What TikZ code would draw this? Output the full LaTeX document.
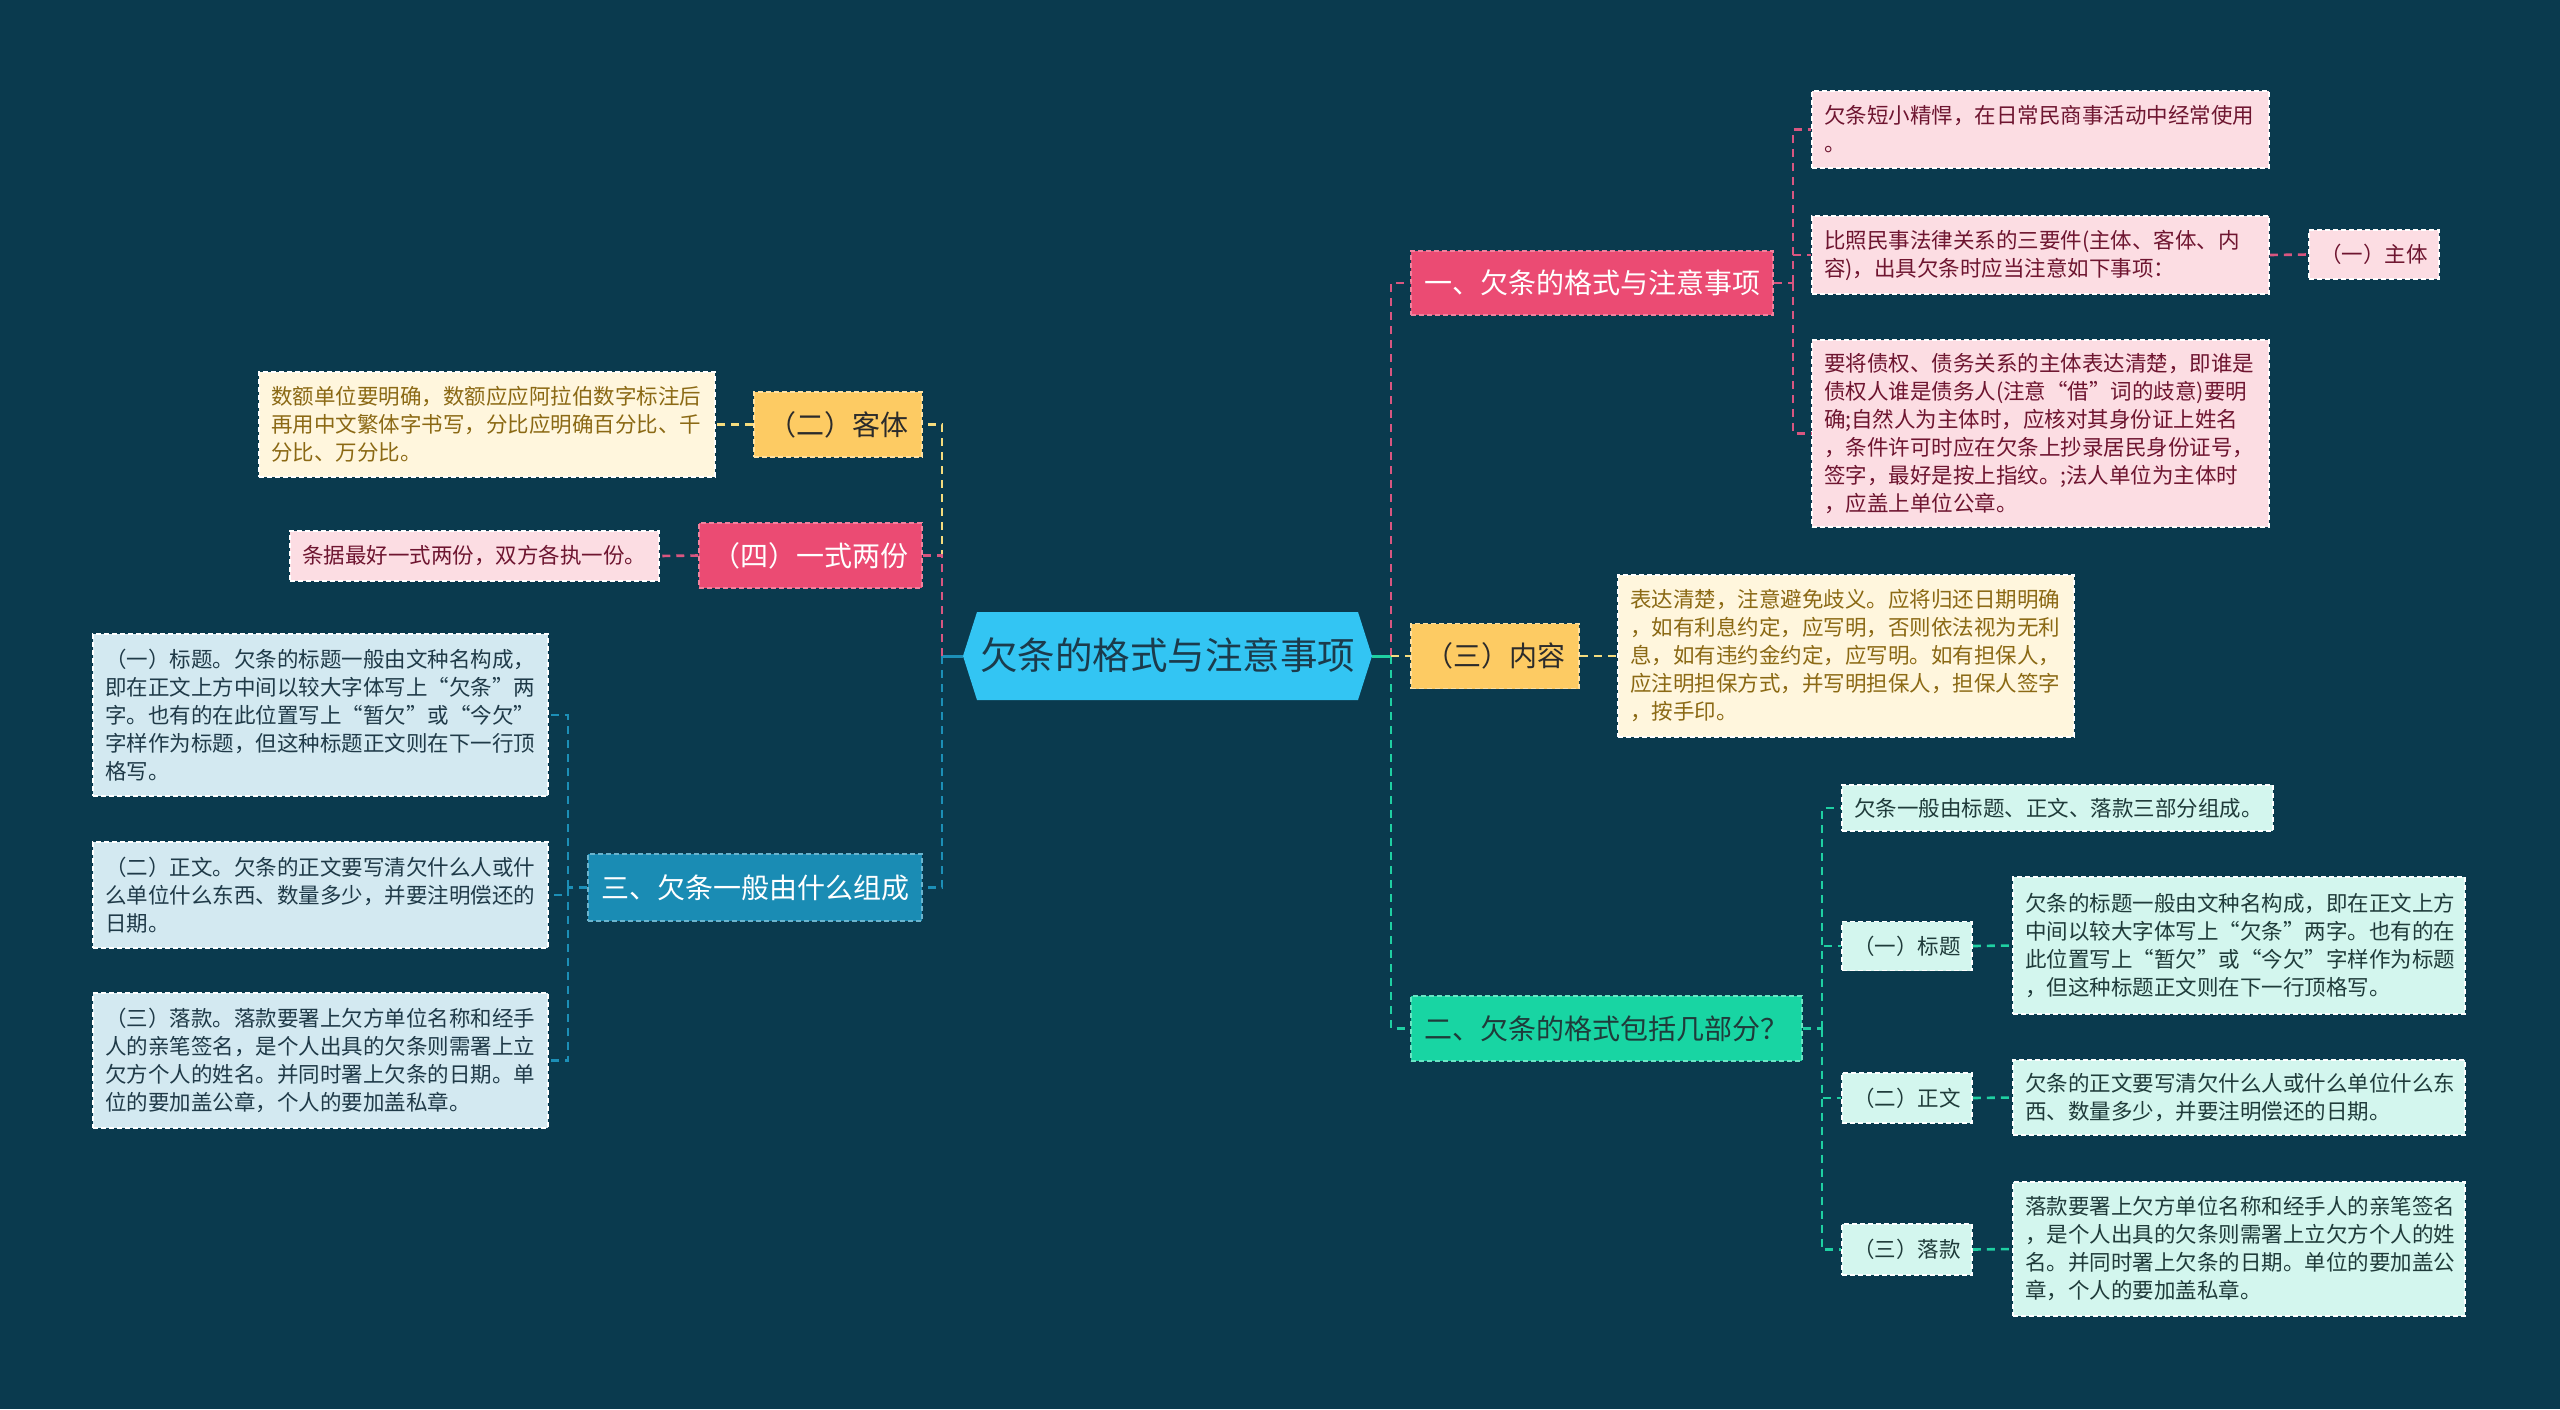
\documentclass[tikz,border=0pt]{standalone}
\usepackage{fontspec}
\newfontfamily\cjk{Noto Sans CJK SC}
\definecolor{bgc}{HTML}{0A3A4E}
\definecolor{cblue}{HTML}{33C5F3}
\definecolor{ctext}{HTML}{1B3B4C}
\definecolor{pinkA}{HTML}{EB4B73}
\definecolor{yelA}{HTML}{FDCB63}
\definecolor{grnA}{HTML}{18D5A3}
\definecolor{bluA}{HTML}{1A8CB4}
\definecolor{pinkL}{HTML}{FCDDE3}
\definecolor{pinkT}{HTML}{6E1530}
\definecolor{yelL}{HTML}{FFF6DD}
\definecolor{yelT}{HTML}{8B6914}
\definecolor{grnL}{HTML}{D3F6EE}
\definecolor{grnT}{HTML}{1F3B3A}
\definecolor{bluL}{HTML}{D3E9F1}
\definecolor{bluT}{HTML}{1F3A48}
\definecolor{pinkC}{HTML}{D95680}
\definecolor{yelC}{HTML}{F5DC7E}
\definecolor{grnC}{HTML}{1FD0A2}
\definecolor{bluC}{HTML}{1C8FB7}
\definecolor{darkT}{HTML}{2B2B2B}
\tikzset{
  lone/.style={font=\cjk\fontsize{28}{34}\selectfont, inner sep=0pt, align=center,
    dash pattern=on 5pt off 3pt, line width=1.5pt},
  leaf/.style={font=\cjk\fontsize{21.5}{28}\selectfont, inner xsep=12pt, inner ysep=0pt,
    align=left, dash pattern=on 5pt off 3pt, line width=1.5pt},
  sleaf/.style={font=\cjk\fontsize{21.5}{28}\selectfont, inner sep=0pt, align=center,
    dash pattern=on 5pt off 3pt, line width=1.5pt},
  pinkone/.style={lone, fill=pinkA, draw=pinkA!70!white, text=white},
  yelone/.style={lone, fill=yelA, draw=yelA!60!white, text=darkT},
  grnone/.style={lone, fill=grnA, draw=grnA!65!white, text=grnT},
  bluone/.style={lone, fill=bluA, draw=bluA!65!white, text=white},
  pinkleaf/.style={fill=pinkL, draw=white, text=pinkT},
  yelleaf/.style={fill=yelL, draw=white, text=yelT},
  grnleaf/.style={fill=grnL, draw=white, text=grnT},
  bluleaf/.style={fill=bluL, draw=white, text=bluT},
  conn/.style={line width=2.6pt, dash pattern=on 8pt off 6pt},
  pinkconn/.style={conn, draw=pinkC},
  yelconn/.style={conn, draw=yelC},
  grnconn/.style={conn, draw=grnC},
  bluconn/.style={conn, draw=bluC},
}
\begin{document}
\begin{tikzpicture}[x=1pt,y=-1pt]
\fill[bgc] (0,0) rectangle (2560,1409);
\useasboundingbox (0,0) rectangle (2560,1409);

% centre hexagon
\fill[cblue] (963,656)--(977,612)--(1358,612)--(1372,656)--(1358,700)--(977,700)--cycle;
\node (c) [font=\cjk\fontsize{37.5}{44}\selectfont, text=ctext, inner sep=0pt] at (1167.5,655) {欠条的格式与注意事项};
\coordinate (cR) at (1372,656);
\coordinate (cL) at (963,656);
\coordinate (rt) at (1391,656);
\coordinate (lt) at (942,656);

% level one, right
\node (A) [pinkone, minimum width=362pt, minimum height=64pt] at (1592,283) {一、欠条的格式与注意事项};
\node (B) [yelone, minimum width=168pt, minimum height=65pt] at (1495,656) {（三）内容};
\node (C) [grnone, minimum width=391pt, minimum height=65pt] at (1606.5,1028.5) {二、欠条的格式包括几部分？};
% level one, left
\node (D) [yelone, minimum width=168pt, minimum height=65pt] at (838,424.5) {（二）客体};
\node (E) [pinkone, minimum width=223pt, minimum height=65pt] at (810.5,555.5) {（四）一式两份};
\node (F) [bluone, minimum width=334pt, minimum height=67pt] at (755,887.5) {三、欠条一般由什么组成};

% leaves of A
\node (A1) [leaf, pinkleaf, text width=433pt, minimum height=77pt] at (2040.5,129.5) {欠条短小精悍，在日常民商事活动中经常使用\\。};
\node (A2) [leaf, pinkleaf, text width=433pt, minimum height=78pt] at (2040.5,255) {比照民事法律关系的三要件(主体、客体、内\\容)，出具欠条时应当注意如下事项：};
\node (A2a) [sleaf, pinkleaf, minimum width=130pt, minimum height=49pt] at (2374,254.5) {（一）主体};
\node (A3) [leaf, pinkleaf, text width=433pt, minimum height=187pt] at (2040.5,433.5) {要将债权、债务关系的主体表达清楚，即谁是\\债权人谁是债务人(注意“借”词的歧意)要明\\确;自然人为主体时，应核对其身份证上姓名\\，条件许可时应在欠条上抄录居民身份证号，\\签字，最好是按上指纹。;法人单位为主体时\\，应盖上单位公章。};

% leaf of B
\node (B1) [leaf, yelleaf, text width=432pt, minimum height=162pt] at (1846,656) {表达清楚，注意避免歧义。应将归还日期明确\\，如有利息约定，应写明，否则依法视为无利\\息，如有违约金约定，应写明。如有担保人，\\应注明担保方式，并写明担保人，担保人签字\\，按手印。};

% leaves of C
\node (C1) [leaf, grnleaf, text width=407pt, minimum height=46pt] at (2057.5,808) {欠条一般由标题、正文、落款三部分组成。};
\node (C2) [sleaf, grnleaf, minimum width=130pt, minimum height=49pt] at (1907,946) {（一）标题};
\node (C2a) [leaf, grnleaf, text width=428pt, minimum height=137pt] at (2239,945.5) {欠条的标题一般由文种名构成，即在正文上方\\中间以较大字体写上“欠条”两字。也有的在\\此位置写上“暂欠”或“今欠”字样作为标题\\，但这种标题正文则在下一行顶格写。};
\node (C3) [sleaf, grnleaf, minimum width=130pt, minimum height=50pt] at (1907,1098) {（二）正文};
\node (C3a) [leaf, grnleaf, text width=428pt, minimum height=75pt] at (2239,1097.5) {欠条的正文要写清欠什么人或什么单位什么东\\西、数量多少，并要注明偿还的日期。};
\node (C4) [sleaf, grnleaf, minimum width=130pt, minimum height=51pt] at (1907,1249.5) {（三）落款};
\node (C4a) [leaf, grnleaf, text width=428pt, minimum height=134pt] at (2239,1249) {落款要署上欠方单位名称和经手人的亲笔签名\\，是个人出具的欠条则需署上立欠方个人的姓\\名。并同时署上欠条的日期。单位的要加盖公\\章，个人的要加盖私章。};

% leaves of D, E
\node (D1) [leaf, yelleaf, text width=432pt, minimum height=105pt] at (487,424.5) {数额单位要明确，数额应应阿拉伯数字标注后\\再用中文繁体字书写，分比应明确百分比、千\\分比、万分比。};
\node (E1) [leaf, pinkleaf, text width=345pt, minimum height=50pt] at (474.5,556) {条据最好一式两份，双方各执一份。};

% leaves of F
\node (F1) [leaf, bluleaf, text width=431pt, minimum height=162pt] at (320.5,715) {（一）标题。欠条的标题一般由文种名构成，\\即在正文上方中间以较大字体写上“欠条”两\\字。也有的在此位置写上“暂欠”或“今欠”\\字样作为标题，但这种标题正文则在下一行顶\\格写。};
\node (F2) [leaf, bluleaf, text width=431pt, minimum height=106pt] at (320.5,895) {（二）正文。欠条的正文要写清欠什么人或什\\么单位什么东西、数量多少，并要注明偿还的\\日期。};
\node (F3) [leaf, bluleaf, text width=431pt, minimum height=135pt] at (320.5,1060.5) {（三）落款。落款要署上欠方单位名称和经手\\人的亲笔签名，是个人出具的欠条则需署上立\\欠方个人的姓名。并同时署上欠条的日期。单\\位的要加盖公章，个人的要加盖私章。};

% connectors: centre to level one
\draw[line width=3pt, grnC] (cR) -- (rt);
\draw[line width=3pt, bluC] (cL) -- (lt);
\draw[grnconn] (rt) |- (C.west);
\draw[pinkconn] (rt) |- (A.west);
\draw[yelconn] (rt) -- (B.west);
\draw[bluconn] (lt) |- (F.east);
\draw[yelconn] (lt) |- (D.east);
\draw[pinkconn] (lt) |- (E.east);

% A subtree
\coordinate (as) at (1793,283);
\draw[pinkconn] (A.east) -- (as);
\draw[pinkconn] (as) |- (A1.west);
\draw[pinkconn] (as) |- (A2.west);
\draw[pinkconn] (as) |- (A3.west);
\draw[pinkconn] (A2.east) -- (A2a.west);

% B subtree
\draw[yelconn] (B.east) -- (B1.west);

% C subtree
\coordinate (cs) at (1822,1028.5);
\draw[grnconn] (C.east) -- (cs);
\draw[grnconn] (cs) |- (C1.west);
\draw[grnconn] (cs) |- (C2.west);
\draw[grnconn] (cs) |- (C3.west);
\draw[grnconn] (cs) |- (C4.west);
\draw[grnconn] (C2.east) -- (C2a.west);
\draw[grnconn] (C3.east) -- (C3a.west);
\draw[grnconn] (C4.east) -- (C4a.west);

% D, E
\draw[yelconn] (D.west) -- (D1.east);
\draw[pinkconn] (E.west) -- (E1.east);

% F subtree
\coordinate (fs) at (568,887.5);
\draw[bluconn] (F.west) -- (fs);
\draw[bluconn] (fs) |- (F1.east);
\draw[bluconn] (fs) |- (F2.east);
\draw[bluconn] (fs) |- (F3.east);
\end{tikzpicture}
\end{document}
